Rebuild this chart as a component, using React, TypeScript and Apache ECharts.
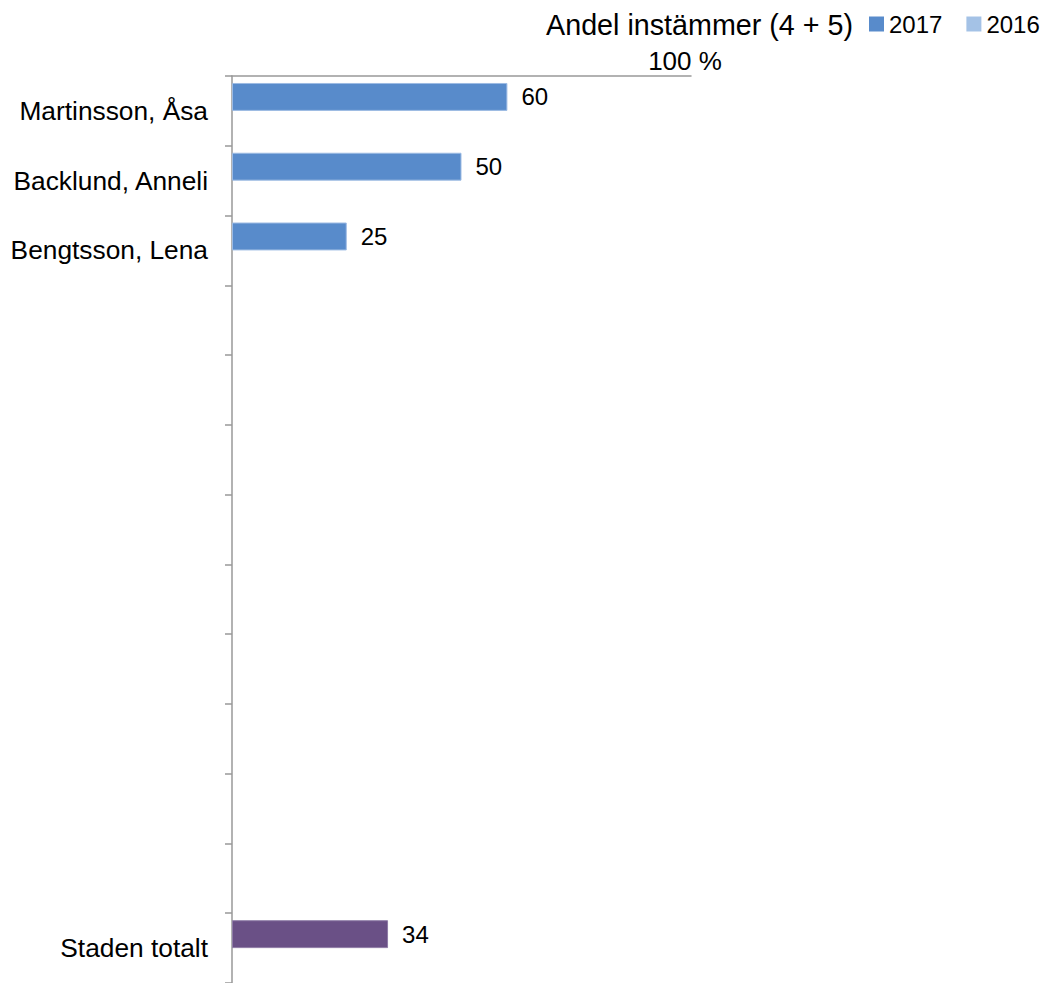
import React, { useEffect, useRef } from "react";
import * as echarts from "echarts";

const categories: string[] = [
  "Martinsson, Åsa",
  "Backlund, Anneli",
  "Bengtsson, Lena",
  "", "", "", "", "", "", "", "", "",
  "Staden totalt",
];

const values2017: (number | null)[] = [60, 50, 25, null, null, null, null, null, null, null, null, null, 34];
const values2016: (number | null)[] = [null, null, null, null, null, null, null, null, null, null, null, null, null];
const seriesNames = ["2017", "2016"];
const titleText = "Andel instämmer (4 + 5)";
const axisMaxLabel = "100 %";
const totalIndex = 12;

const FONT = "'Liberation Sans', Arial, sans-serif";
const BLUE = "#588BCB";
const LIGHT = "#A4C2E6";
const PURPLE = "#6A5086";

export default function App() {
  const ref = useRef<HTMLDivElement>(null);
  useEffect(() => {
    if (!ref.current) return;
    const chart = echarts.init(ref.current, undefined, { renderer: "svg" });
    const data2017 = values2017.map((v, i) =>
      i === totalIndex && v !== null
        ? { value: v, itemStyle: { color: PURPLE, borderColor: "#8E7BA6" } }
        : v
    );
    chart.setOption({
      animation: false,
      textStyle: { fontFamily: FONT, color: "#000" },
      graphic: [
        {
          type: "text",
          x: 853,
          y: 25,
          style: {
            text: titleText,
            font: `28.7px ${FONT}`,
            fill: "#000",
            textAlign: "right",
            textVerticalAlign: "middle",
          },
        },
      ],
      legend: {
        data: seriesNames,
        orient: "horizontal",
        left: 869,
        top: 12,
        width: 180,
        padding: 0,
        icon: "rect",
        itemWidth: 15,
        itemHeight: 15,
        itemGap: 24,
        itemStyle: { borderWidth: 0 },
        textStyle: { fontSize: 24, color: "#000", fontFamily: FONT },
      },
      grid: { left: 232, top: 76, width: 459, height: 914, containLabel: false },
      xAxis: {
        type: "value",
        position: "top",
        min: 0,
        max: 100,
        interval: 100,
        axisLine: { show: true, lineStyle: { color: "#999", width: 1.5 } },
        axisTick: { show: false },
        splitLine: { show: false },
        axisLabel: {
          formatter: (v: number) => (v === 100 ? axisMaxLabel : ""),
          fontSize: 26,
          color: "#000",
          margin: 2,
          padding: [0, 12, 0, 0],
          fontFamily: FONT,
        },
      },
      yAxis: {
        type: "category",
        inverse: true,
        data: categories,
        axisLine: { show: true, lineStyle: { color: "#999", width: 1.5 } },
        axisTick: { show: true, length: 7, lineStyle: { color: "#999", width: 1.5 } },
        splitLine: { show: false },
        axisLabel: { fontSize: 26.3, color: "#000", margin: 24, fontFamily: FONT, interval: 0 },
      },
      series: [
        {
          name: seriesNames[0],
          type: "bar",
          data: data2017,
          barCategoryGap: "20%",
          barGap: "0%",
          itemStyle: { color: BLUE, borderColor: "#9DBBE3", borderWidth: 1 },
          label: {
            show: true,
            position: "right",
            distance: 14,
            fontSize: 24,
            color: "#000",
            fontFamily: FONT,
          },
        },
        {
          name: seriesNames[1],
          type: "bar",
          data: values2016,
          barCategoryGap: "20%",
          barGap: "0%",
          itemStyle: { color: LIGHT },
          label: { show: true, position: "right", fontSize: 24, color: "#000" },
        },
      ],
    });
    return () => chart.dispose();
  }, []);
  return (
    <div
      ref={ref}
      style={{ position: "absolute", left: 0, top: 0, width: 1049, height: 983 }}
    />
  );
}
